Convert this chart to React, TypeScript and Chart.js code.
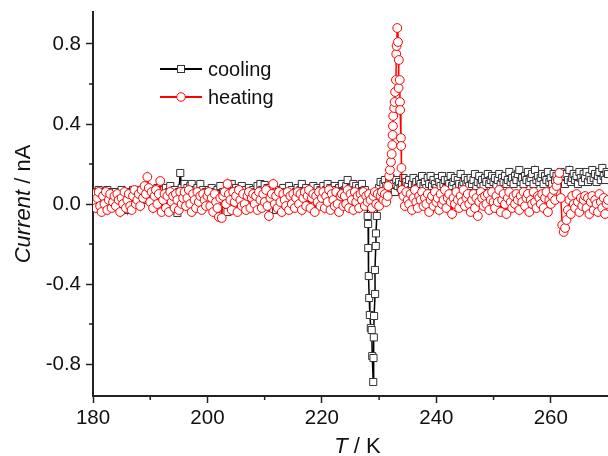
import React, { useEffect, useRef } from "react";
import { Chart, registerables } from "chart.js";

Chart.register(...registerables);

// ---- data ----
const stepT = 0.25;

const coolStartA = 180.0;
const coolA = [
  0.05, 0.03, 0.06, 0.04, 0.07, 0.02, 0.05, 0.06, 0.03, 0.05, 0.07, 0.04, 0.02, 0.06, 0.05, 0.03,
  0.06, 0.04, 0.02, 0.05, 0.07, 0.03, 0.05, 0.04, -0.03, 0.02, 0.06, 0.04, 0.07, 0.05, 0.03, 0.06,
  0.04, 0.07, 0.05, 0.03, 0.08, 0.05, 0.02, 0.06, 0.04, 0.07, 0.05, 0.03, 0.06, 0.08, 0.04, 0.05,
  0.07, 0.03, 0.05, 0.08, 0.04, 0.06, 0.09, 0.05, 0.03, 0.07, 0.04, -0.045, 0.06, 0.155, 0.08, 0.05,
  0.1, 0.06, 0.08, 0.04, 0.09, 0.1, 0.05, 0.07, 0.03, 0.08, 0.06, 0.1, 0.04, 0.07, 0.05, 0.06,
  0.03, 0.07, 0.05, 0.08, 0.04, 0.06, 0.02, 0.07, 0.05, 0.09, 0.04, 0.06, 0.03, 0.05, -0.04, 0.07,
  0.05, 0.1, 0.06, 0.04, 0.08, 0.05, 0.07, 0.03, 0.09, 0.06, 0.04, 0.07, 0.05, 0.08, 0.03, 0.06,
  0.07, 0.04, 0.06, 0.09, 0.05, 0.1, 0.07, 0.04, 0.095, 0.06, 0.08, 0.03, 0.06, 0.05, 0.07, 0.04,
  -0.03, 0.05, 0.07, 0.04, 0.06, 0.08, 0.03, 0.06, 0.05, 0.09, 0.04, 0.07, 0.05, 0.03, 0.06, 0.08,
  0.05, 0.07, 0.1, 0.04, 0.06, 0.08, 0.05, 0.03, 0.07, 0.06, 0.09, 0.04, 0.06, 0.08, 0.05, 0.07,
  0.06, 0.09, 0.04, 0.07, 0.1, 0.05, 0.08, 0.06, 0.04, 0.09, 0.07, 0.05, 0.08, 0.06, 0.1, 0.05,
  0.07, 0.09, 0.12, 0.06, 0.08, 0.05, 0.1, 0.07, 0.09, 0.04, 0.08, 0.06, 0.1, 0.05, 0.07, 0.04,
];

const coolDipT = [228.0, 228.08, 228.1, 228.2, 228.27, 228.38, 228.55, 228.7, 228.8, 228.97, 229.02, 229.08, 229.12, 229.3, 229.27, 229.42, 229.45, 229.6];
const coolDipI = [-0.06, -0.1, -0.22, -0.36, -0.47, -0.555, -0.62, -0.63, -0.76, -0.89, -0.77, -0.667, -0.56, -0.45, -0.33, -0.21, -0.147, -0.06];

const coolStartB = 230.0;
const coolB = [
  0.08, 0.11, 0.06, 0.1, 0.12, 0.09, 0.07, 0.11, 0.13, 0.08, 0.1, 0.06, 0.12, 0.09, 0.11, 0.08,
  0.1, 0.13, 0.08, 0.11, 0.09, 0.12, 0.07, 0.1, 0.13, 0.09, 0.11, 0.08, 0.12, 0.1, 0.14, 0.09,
  0.11, 0.08, 0.13, 0.1, 0.14, 0.09, 0.12, 0.1, 0.08, 0.13, 0.11, 0.09, 0.14, 0.1, 0.12, 0.08,
  0.12, 0.1, 0.14, 0.09, 0.11, 0.13, 0.08, 0.12, 0.1, 0.15, 0.09, 0.11, 0.13, 0.1, 0.12, 0.09,
  0.13, 0.1, 0.12, 0.15, 0.09, 0.11, 0.14, 0.1, 0.12, 0.09, 0.13, 0.11, 0.15, 0.1, 0.12, 0.14,
  0.11, 0.13, 0.09, 0.12, 0.15, 0.1, 0.13, 0.11, 0.14, 0.1, 0.12, 0.16, 0.11, 0.13, 0.1, 0.14,
  0.12, 0.15, 0.17, 0.11, 0.13, 0.1, 0.14, 0.12, 0.16, 0.11, 0.13, 0.15, 0.1, 0.17, 0.12, 0.14,
  0.11, 0.13, 0.15, 0.1, 0.14, 0.12, 0.16, 0.11, 0.13, 0.1, 0.15, 0.12, 0.14, 0.11, 0.13, 0.16,
  0.12, 0.14, 0.1, 0.15, 0.12, 0.17, 0.11, 0.13, 0.15, 0.12, 0.14, 0.1, 0.16, 0.13, 0.11, 0.15,
  0.13, 0.16, 0.11, 0.14, 0.12, 0.17, 0.13, 0.15, 0.11, 0.14, 0.16, 0.12, 0.18, 0.14, 0.12, 0.16,
  0.15,
];

const heatStartA = 180.0;
const heatA = [
  0.01, 0.05, -0.02, 0.03, 0.06, -0.01, -0.04, 0.04, 0.0, 0.06, -0.03, 0.02, 0.05, -0.02, 0.01, 0.04,
  -0.01, 0.05, 0.02, -0.04, 0.03, 0.0, 0.06, -0.02, 0.02, 0.05, -0.01, -0.03, 0.04, 0.07, 0.0, 0.02,
  0.05, -0.01, 0.07, 0.03, 0.09, 0.05, 0.135, 0.08, 0.01, 0.06, -0.02, 0.04, 0.07, 0.0, 0.05, 0.115,
  -0.04, 0.02, 0.05, -0.02, 0.04, -0.04, 0.06, 0.01, 0.04, -0.02, 0.05, 0.02, -0.03, 0.06, 0.0, 0.03,
  0.06, -0.01, 0.03, 0.07, 0.0, -0.04, 0.05, 0.02, -0.02, 0.06, 0.01, 0.04, -0.03, 0.05, 0.02, -0.01,
  0.04, 0.06, -0.01, 0.03, -0.04, 0.05, 0.01, -0.02, -0.065, 0.03, -0.07, 0.04, 0.06, 0.0, 0.1, 0.05,
  0.02, -0.03, 0.06, 0.01, 0.04, -0.04, 0.07, 0.02, -0.01, 0.05, 0.0, -0.03, 0.04, 0.06, -0.02, 0.03,
  0.05, 0.0, 0.04, -0.03, 0.06, 0.02, -0.02, 0.05, 0.01, 0.07, -0.01, -0.06, 0.03, 0.05, 0.1, 0.0,
  0.04, -0.02, 0.06, 0.01, -0.04, 0.05, 0.02, -0.01, 0.06, -0.03, 0.04, 0.0, 0.05, -0.02, 0.03, 0.06,
  0.0, 0.05, -0.03, 0.03, 0.06, -0.01, 0.04, 0.07, -0.02, 0.03, 0.05, -0.04, 0.04, 0.01, 0.06, -0.01,
  0.03, 0.06, -0.02, 0.04, 0.01, 0.07, -0.03, 0.05, 0.02, -0.01, 0.06, 0.0, -0.04, 0.04, 0.05, -0.01,
  0.04, 0.0, 0.07, -0.02, 0.05, 0.02, -0.03, 0.06, 0.01, 0.04, -0.02, 0.05, 0.02, 0.06, -0.01, 0.04,
  0.01, 0.05, 0.02, -0.02, 0.04, 0.06, 0.0, 0.05, -0.01, 0.04, 0.06, 0.02, 0.05, 0.01, 0.04,
];

const heatPeakT = [231.59, 231.77, 231.89, 232.07, 232.19, 232.3, 232.36, 232.42, 232.47, 232.64, 232.71, 232.8, 232.94, 233.0, 233.05, 233.17, 233.3, 233.45, 233.4, 233.6, 233.64, 233.68, 233.81, 233.85, 233.9, 234.0];
const heatPeakI = [0.09, 0.14, 0.17, 0.21, 0.25, 0.295, 0.345, 0.39, 0.44, 0.48, 0.51, 0.56, 0.62, 0.75, 0.79, 0.88, 0.81, 0.72, 0.58, 0.62, 0.51, 0.47, 0.33, 0.29, 0.18, 0.07];

const heatStartB = 234.25;
const heatB = [
  0.04, -0.01, 0.06, 0.02, 0.0, 0.05, -0.03, 0.03, 0.07, 0.01, -0.02, 0.04, 0.02, 0.06, -0.01, 0.03,
  0.0, 0.05, -0.04, 0.02, 0.04, -0.01, 0.06, 0.01, 0.03, -0.03, 0.05, 0.0, 0.02, 0.07, -0.02, 0.03,
  0.05, 0.01, -0.05, 0.03, 0.0, 0.06, 0.02, -0.02, 0.04, 0.01, 0.07, -0.01, 0.03, 0.05, 0.0, -0.04,
  0.02, 0.05, -0.02, 0.03, -0.06, 0.01, 0.06, 0.03, -0.01, 0.04, 0.0, 0.05, -0.03, 0.02, 0.06, 0.01,
  -0.02, 0.04, 0.01, 0.07, -0.04, 0.02, 0.05, 0.0, -0.05, 0.03, 0.06, 0.01, -0.02, 0.04, 0.0, 0.05,
  0.02, -0.03, 0.04, 0.01, 0.06, -0.01, 0.03, 0.05, -0.04, 0.02, 0.0, 0.06, 0.01, -0.02, 0.04, 0.03,
  0.0, 0.05, -0.02, 0.03, 0.06, -0.04, 0.02, 0.0, 0.04, 0.07, 0.02, 0.09, 0.12, 0.155, 0.03, -0.105,
  -0.14, -0.12, -0.08, -0.03, 0.02, -0.05, 0.04, 0.0, -0.02, 0.05, 0.01, -0.04, 0.03, -0.01, 0.02, 0.04,
  -0.02, 0.03, -0.05, 0.01, 0.04, -0.03, 0.02, 0.0, -0.04, 0.05, 0.01, -0.02, 0.03, -0.05, 0.0, 0.02,
];

const xTicks = [180, 200, 220, 240, 260];
const xMinor = [190, 210, 230, 250];
const yTicks = [-0.8, -0.4, 0.0, 0.4, 0.8];
const yMinor = [-0.6, -0.2, 0.2, 0.6];
const seriesNames = ["cooling", "heating"];

const FONT = "'Liberation Sans', Arial, Helvetica, sans-serif";
const AXIS = "#222";
const RED = "#ff0000";

function seg(start: number, vals: number[]) {
  return vals.map((v, i) => ({ x: +(start + i * stepT).toFixed(2), y: v }));
}
function pairs(ts: number[], vs: number[]) {
  return ts.map((t, i) => ({ x: t, y: vs[i] }));
}

const coolingData = [...seg(coolStartA, coolA), ...pairs(coolDipT, coolDipI), ...seg(coolStartB, coolB)];
const heatingData = [...seg(heatStartA, heatA), ...pairs(heatPeakT, heatPeakI), ...seg(heatStartB, heatB)];

const decorPlugin = {
  id: "decor",
  afterDraw(chart: any) {
    const ctx = chart.ctx;
    const { left, right, top, bottom } = chart.chartArea;
    const xs = chart.scales.x;
    const ys = chart.scales.y;
    ctx.save();
    // minor ticks
    ctx.strokeStyle = AXIS;
    ctx.lineWidth = 1.5;
    ctx.beginPath();
    xMinor.forEach((v) => {
      const px = xs.getPixelForValue(v);
      ctx.moveTo(px, bottom);
      ctx.lineTo(px, bottom + 4);
    });
    yMinor.forEach((v) => {
      const py = ys.getPixelForValue(v);
      ctx.moveTo(left, py);
      ctx.lineTo(left - 4, py);
    });
    ctx.stroke();

    // x title
    const tSize = 22;
    ctx.fillStyle = "#111";
    ctx.textBaseline = "alphabetic";
    ctx.textAlign = "left";
    ctx.font = `italic ${tSize}px ${FONT}`;
    const tW = ctx.measureText("T").width;
    ctx.font = `${tSize}px ${FONT}`;
    const kW = ctx.measureText(" / K").width;
    const cx = (left + right) / 2 + 7;
    const x0 = cx - (tW + kW) / 2;
    const by = bottom + 57;
    ctx.font = `italic ${tSize}px ${FONT}`;
    ctx.fillText("T", x0, by);
    ctx.font = `${tSize}px ${FONT}`;
    ctx.fillText(" / K", x0 + tW, by);

    // y title
    ctx.save();
    ctx.translate(left - 69, (top + bottom) / 2);
    ctx.rotate(-Math.PI / 2);
    ctx.textBaseline = "middle";
    ctx.font = `italic ${tSize}px ${FONT}`;
    const cW = ctx.measureText("Current").width;
    ctx.font = `${tSize}px ${FONT}`;
    const nW = ctx.measureText(" / nA").width;
    const y0 = -(cW + nW) / 2;
    ctx.font = `italic ${tSize}px ${FONT}`;
    ctx.fillText("Current", y0, 0);
    ctx.font = `${tSize}px ${FONT}`;
    ctx.fillText(" / nA", y0 + cW, 0);
    ctx.restore();

    // legend
    const lx0 = left + 67;
    const lx1 = left + 109;
    const mx = (lx0 + lx1) / 2;
    const rows = [top + 57, top + 85];
    ctx.font = `20px ${FONT}`;
    ctx.textBaseline = "middle";
    ctx.textAlign = "left";
    rows.forEach((ry, i) => {
      ctx.strokeStyle = i === 0 ? "#000" : RED;
      ctx.lineWidth = 2;
      ctx.beginPath();
      ctx.moveTo(lx0, ry);
      ctx.lineTo(lx1, ry);
      ctx.stroke();
      ctx.fillStyle = "#fff";
      ctx.lineWidth = 1;
      if (i === 0) {
        ctx.strokeStyle = "#333";
        ctx.fillRect(mx - 3.5, ry - 3.5, 7, 7);
        ctx.strokeRect(mx - 3.5, ry - 3.5, 7, 7);
      } else {
        ctx.strokeStyle = RED;
        ctx.beginPath();
        ctx.arc(mx, ry, 4.3, 0, Math.PI * 2);
        ctx.fill();
        ctx.stroke();
      }
      ctx.fillStyle = "#111";
      ctx.fillText(seriesNames[i], lx1 + 6, ry + 1);
    });
    ctx.restore();
  },
};

export default function App() {
  const ref = useRef<HTMLCanvasElement | null>(null);
  useEffect(() => {
    if (!ref.current) return;
    const chart = new Chart(ref.current, {
      type: "scatter",
      data: {
        datasets: [
          {
            label: seriesNames[0],
            data: coolingData,
            showLine: true,
            borderColor: "#000",
            borderWidth: 1.5,
            pointStyle: "rect",
            pointRadius: 5,
            pointBackgroundColor: "#fff",
            pointBorderColor: "#333",
            pointBorderWidth: 1,
            order: 2,
          },
          {
            label: seriesNames[1],
            data: heatingData,
            showLine: true,
            borderColor: RED,
            borderWidth: 1.5,
            pointStyle: "circle",
            pointRadius: 4.4,
            pointBackgroundColor: "#fff",
            pointBorderColor: RED,
            pointBorderWidth: 1,
            order: 1,
          },
        ],
      },
      options: {
        responsive: false,
        animation: false,
        devicePixelRatio: 1,
        layout: { autoPadding: false, padding: { top: 12, right: 0, left: 0, bottom: 0 } },
        plugins: { legend: { display: false }, tooltip: { enabled: false } },
        scales: {
          x: {
            type: "linear",
            min: 180,
            max: 270,
            afterFit: (s: any) => {
              s.height = 60;
              s.paddingLeft = 0;
              s.paddingRight = 0;
            },
            afterBuildTicks: (s: any) => {
              s.ticks = xTicks.map((v) => ({ value: v }));
            },
            grid: { drawOnChartArea: false, drawTicks: true, tickLength: 7, tickColor: AXIS, tickWidth: 1.5 },
            border: { color: AXIS, width: 2 },
            ticks: {
              font: { family: FONT, size: 20.5 },
              color: "#111",
              padding: 3,
              maxRotation: 0,
              autoSkip: false,
              callback: (v: any) => String(v),
            },
          },
          y: {
            type: "linear",
            min: -0.96,
            max: 0.96,
            afterFit: (s: any) => {
              s.width = 93;
              s.paddingTop = 0;
              s.paddingBottom = 0;
            },
            afterBuildTicks: (s: any) => {
              s.ticks = yTicks.map((v) => ({ value: v }));
            },
            grid: { drawOnChartArea: false, drawTicks: true, tickLength: 7, tickColor: AXIS, tickWidth: 1.5 },
            border: { color: AXIS, width: 2 },
            ticks: {
              font: { family: FONT, size: 20.5 },
              color: "#111",
              padding: 5,
              autoSkip: false,
              callback: (v: any) => Number(v).toFixed(1),
            },
          },
        },
      },
      plugins: [decorPlugin],
    });
    return () => chart.destroy();
  }, []);
  return (
    <div style={{ position: "absolute", left: 0, top: 0, width: 608, height: 456, background: "#fff" }}>
      <canvas ref={ref} width={608} height={456} style={{ display: "block" }} />
    </div>
  );
}
